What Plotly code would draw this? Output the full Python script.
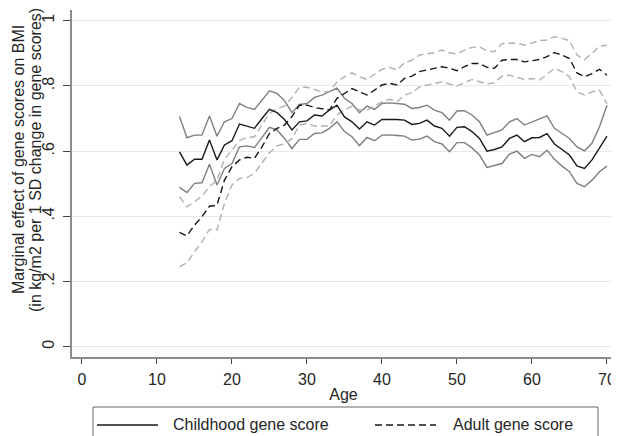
import plotly.graph_objects as go

ages = list(range(13, 71))

child = [0.598, 0.557, 0.575, 0.575, 0.634, 0.573, 0.619, 0.632, 0.683, 0.677,
         0.670, 0.700, 0.728, 0.718, 0.697, 0.665, 0.690, 0.693, 0.711, 0.708,
         0.726, 0.741, 0.705, 0.690, 0.668, 0.690, 0.680, 0.697, 0.698, 0.697,
         0.695, 0.682, 0.685, 0.695, 0.677, 0.670, 0.646, 0.673, 0.675, 0.660,
         0.639, 0.600, 0.605, 0.613, 0.639, 0.649, 0.629, 0.641, 0.642, 0.654,
         0.622, 0.606, 0.588, 0.555, 0.547, 0.573, 0.608, 0.646]
child_hi = [0.706, 0.641, 0.649, 0.649, 0.708, 0.646, 0.690, 0.700, 0.746, 0.734,
            0.728, 0.757, 0.785, 0.777, 0.755, 0.718, 0.743, 0.746, 0.765, 0.772,
            0.782, 0.793, 0.762, 0.746, 0.718, 0.738, 0.728, 0.746, 0.748, 0.747,
            0.744, 0.731, 0.734, 0.741, 0.726, 0.718, 0.695, 0.723, 0.724, 0.711,
            0.690, 0.649, 0.656, 0.665, 0.690, 0.700, 0.680, 0.690, 0.698, 0.708,
            0.670, 0.654, 0.639, 0.613, 0.601, 0.624, 0.675, 0.741]
child_lo = [0.489, 0.473, 0.501, 0.503, 0.560, 0.496, 0.547, 0.562, 0.613, 0.616,
            0.611, 0.644, 0.673, 0.665, 0.639, 0.608, 0.636, 0.636, 0.654, 0.656,
            0.670, 0.690, 0.660, 0.644, 0.617, 0.642, 0.632, 0.649, 0.650, 0.648,
            0.646, 0.634, 0.637, 0.646, 0.629, 0.622, 0.598, 0.626, 0.626, 0.610,
            0.588, 0.550, 0.555, 0.562, 0.591, 0.600, 0.578, 0.590, 0.583, 0.603,
            0.575, 0.554, 0.537, 0.501, 0.491, 0.511, 0.537, 0.554]
adult = [0.351, 0.340, 0.373, 0.399, 0.431, 0.434, 0.511, 0.552, 0.573, 0.581,
         0.578, 0.613, 0.654, 0.670, 0.680, 0.706, 0.741, 0.741, 0.734, 0.730,
         0.726, 0.762, 0.777, 0.792, 0.782, 0.772, 0.787, 0.803, 0.808, 0.803,
         0.823, 0.830, 0.844, 0.849, 0.854, 0.859, 0.854, 0.847, 0.859, 0.869,
         0.869, 0.857, 0.854, 0.879, 0.881, 0.881, 0.874, 0.877, 0.881, 0.890,
         0.902, 0.895, 0.884, 0.840, 0.828, 0.838, 0.851, 0.833]
adult_hi = [0.460, 0.429, 0.445, 0.462, 0.491, 0.511, 0.575, 0.603, 0.632, 0.642,
            0.644, 0.680, 0.716, 0.731, 0.738, 0.765, 0.796, 0.796, 0.789, 0.782,
            0.782, 0.813, 0.828, 0.840, 0.828, 0.820, 0.836, 0.851, 0.857, 0.849,
            0.871, 0.879, 0.895, 0.898, 0.902, 0.910, 0.902, 0.898, 0.910, 0.918,
            0.920, 0.908, 0.905, 0.930, 0.932, 0.932, 0.925, 0.932, 0.939, 0.941,
            0.951, 0.946, 0.939, 0.895, 0.881, 0.900, 0.922, 0.925]
adult_lo = [0.245, 0.258, 0.291, 0.322, 0.360, 0.358, 0.440, 0.496, 0.516, 0.519,
            0.532, 0.562, 0.595, 0.616, 0.622, 0.639, 0.680, 0.685, 0.677, 0.677,
            0.677, 0.711, 0.726, 0.738, 0.726, 0.726, 0.738, 0.751, 0.759, 0.751,
            0.772, 0.779, 0.797, 0.802, 0.806, 0.813, 0.806, 0.800, 0.810, 0.820,
            0.813, 0.806, 0.810, 0.830, 0.833, 0.826, 0.820, 0.823, 0.818, 0.836,
            0.854, 0.844, 0.828, 0.782, 0.772, 0.782, 0.787, 0.746]

x_ticks = [0, 10, 20, 30, 40, 50, 60, 70]
y_ticks = [0, 0.2, 0.4, 0.6, 0.8, 1.0]
y_tick_labels = ["0", ".2", ".4", ".6", ".8", "1"]
legend_labels = ["Childhood gene score", "Adult gene score"]
y_title_lines = ["Marginal effect of gene scores on BMI",
                 "(in kg/m2 per 1 SD change in gene scores)"]

FONT = "Liberation Sans, Arial, sans-serif"
DASH = "7px,4px"
TXT = "#262626"

# figure geometry (page body has an 8px margin)
W, H = 611, 428
L, R, T, B = 64, 4, 2, 79
PW, PH = W - L - R, H - T - B


def px(xp):
    return (xp - L) / PW


def py(yp):
    return (H - B - yp) / PH


fig = go.Figure()
fig.add_trace(go.Scatter(x=ages, y=child_hi, mode="lines", showlegend=False,
                         line=dict(color="#7f7f7f", width=1.4)))
fig.add_trace(go.Scatter(x=ages, y=child_lo, mode="lines", showlegend=False,
                         line=dict(color="#7f7f7f", width=1.4)))
fig.add_trace(go.Scatter(x=ages, y=adult_hi, mode="lines", showlegend=False,
                         line=dict(color="#b0b0b0", width=1.4, dash=DASH)))
fig.add_trace(go.Scatter(x=ages, y=adult_lo, mode="lines", showlegend=False,
                         line=dict(color="#b0b0b0", width=1.4, dash=DASH)))
fig.add_trace(go.Scatter(x=ages, y=child, mode="lines", name=legend_labels[0],
                         showlegend=False, line=dict(color="#1a1a1a", width=1.4)))
fig.add_trace(go.Scatter(x=ages, y=adult, mode="lines", name=legend_labels[1],
                         showlegend=False, line=dict(color="#1a1a1a", width=1.4, dash=DASH)))

shapes = [
    # legend frame (runs off the bottom of the picture)
    dict(type="rect", xref="paper", yref="paper", x0=px(85), x1=px(590),
         y0=py(399), y1=py(445), line=dict(color="#666", width=1), fillcolor="white",
         layer="below"),
    dict(type="line", xref="paper", yref="paper", x0=px(89), x1=px(150),
         y0=py(417), y1=py(417), line=dict(color="#1a1a1a", width=1.4)),
    dict(type="line", xref="paper", yref="paper", x0=px(367), x1=px(428),
         y0=py(417), y1=py(417), line=dict(color="#1a1a1a", width=1.4, dash=DASH)),
]

annotations = [
    dict(text=legend_labels[0], xref="paper", yref="paper", x=px(163), y=py(417),
         xanchor="left", yanchor="middle", showarrow=False, font=dict(size=16)),
    dict(text=legend_labels[1], xref="paper", yref="paper", x=px(443), y=py(417),
         xanchor="left", yanchor="middle", showarrow=False, font=dict(size=16)),
    dict(text=y_title_lines[0], xref="paper", yref="paper", x=px(10), y=py(152),
         xanchor="center", yanchor="middle", textangle=-90, showarrow=False,
         font=dict(size=16)),
    dict(text=y_title_lines[1], xref="paper", yref="paper", x=px(27), y=py(152),
         xanchor="center", yanchor="middle", textangle=-90, showarrow=False,
         font=dict(size=16)),
]

fig.update_layout(
    width=W, height=H,
    margin=dict(l=L, r=R, t=T, b=B),
    paper_bgcolor="white", plot_bgcolor="white",
    font=dict(family=FONT, size=16, color=TXT),
    showlegend=False,
    xaxis=dict(range=[-1.33, 71.07], tickvals=x_ticks, ticks="outside", ticklen=5,
               tickcolor="#444", showgrid=False, zeroline=False, showline=True,
               linecolor="#8c8c8c", linewidth=2, tickfont=dict(size=16),
               ticklabelstandoff=2,
               title=dict(text="Age", standoff=2, font=dict(size=16))),
    yaxis=dict(range=[-0.0316, 1.033], tickvals=y_ticks, ticktext=y_tick_labels,
               tickangle=-90, ticks="outside", ticklen=7, tickcolor="#444",
               showgrid=True, gridcolor="#e8e8e8", gridwidth=1, zeroline=False,
               showline=True, linecolor="#8c8c8c", linewidth=2, tickfont=dict(size=16),
               ticklabelstandoff=3),
    shapes=shapes,
    annotations=annotations,
)

fig.write_html("out.html")
